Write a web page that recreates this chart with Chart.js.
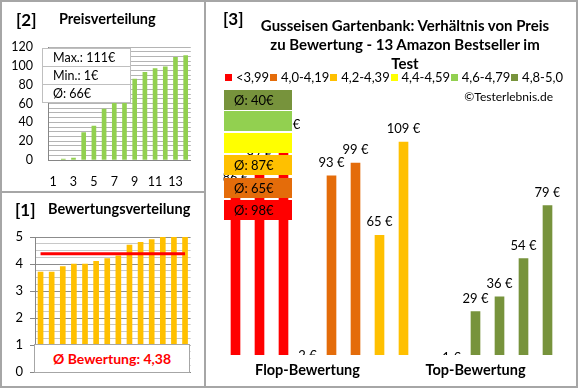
<!DOCTYPE html>
<html><head><meta charset="utf-8">
<script src="https://cdn.jsdelivr.net/npm/chart.js@4"></script>
<style>
body{margin:0;background:#fff;font-family:Lato,sans-serif;}
#root{position:relative;width:580px;height:390px;overflow:hidden;background:#fff;}
.abs{position:absolute;}
canvas{position:absolute;}
.hdr{position:absolute;font-weight:bold;color:#000;white-space:nowrap;}
.row{position:absolute;left:42px;border:1px solid #BFBFBF;background:#fff;font-size:12.5px;line-height:17px;padding-left:10px;box-sizing:border-box;width:89px;}
.ovl{position:absolute;left:224px;width:68px;height:20px;font-size:13px;line-height:20px;color:#000;box-sizing:border-box;padding-left:10px;}
#legend{position:absolute;left:225px;top:70px;width:338px;height:14px;display:flex;justify-content:space-between;align-items:center;font-size:13px;}
#legend span.i{display:flex;align-items:center;white-space:nowrap;}
#legend span.sq{display:inline-block;width:7px;height:7px;margin-right:4px;}
</style></head>
<body>
<div id="root">
<canvas id="c2" width="200" height="192" style="left:0;top:0"></canvas>
<canvas id="c1" width="200" height="196" style="left:0;top:192px"></canvas>
<canvas id="c3" width="375" height="390" style="left:205px;top:0"></canvas>

<div class="hdr" style="left:16px;top:9px;font-size:17px;">[2]</div>
<div class="hdr" style="left:59px;top:10px;font-size:14.5px;">Preisverteilung</div>
<div class="hdr" style="left:15px;top:199px;font-size:17px;">[1]</div>
<div class="hdr" style="left:48px;top:200px;font-size:14.5px;">Bewertungsverteilung</div>
<div class="hdr" style="left:223px;top:8px;font-size:17px;">[3]</div>
<div class="hdr" style="left:230px;top:16px;width:350px;text-align:center;font-size:15px;line-height:19px;white-space:normal;" id="title"></div>

<div id="statsBox"></div>
<div id="ratingBox" class="abs" style="left:34px;top:344px;width:156px;height:29px;border:1px solid #A6A6A6;background:#fff;box-sizing:border-box;text-align:center;color:#FF0000;font-weight:bold;font-size:14px;line-height:27px;"></div>

<div id="legend"></div>
<div class="abs" style="left:440px;top:89px;width:113px;text-align:right;font-size:12px;">©Testerlebnis.de</div>
<div id="ovls"></div>

<div class="abs" style="left:0;top:0;width:578px;height:388px;border:2px solid #A6A6A6;box-sizing:border-box;"></div>
<div class="abs" style="left:204px;top:0;width:2px;height:388px;background:#A6A6A6;"></div>
<div class="abs" style="left:0;top:191px;width:205px;height:2px;background:#A6A6A6;"></div>
</div>

<script>
// ---------- data ----------
const priceCats = ['1','2','3','4','5','6','7','8','9','10','11','12','13','14'];
const priceDist = [null, 1, 2, 29, 36, 54, 65, 79, 86, 93, 97, 99, 109, 111];
const priceStats = ['Max.: 111€', 'Min.: 1€', 'Ø: 66€'];

const ratingCats = ['1','2','3','4','5','6','7','8','9','10','11','12','13','14'];
const ratings = [3.7, 3.7, 3.9, 4.0, 4.0, 4.1, 4.2, 4.3, 4.7, 4.8, 4.9, 5.0, 5.0, 5.0];
const avgRating = 4.38;
const avgRatingText = 'Ø Bewertung: 4,38';

const titleLines = ['Gusseisen Gartenbank: Verhältnis von Preis', 'zu Bewertung - 13 Amazon Bestseller im', 'Test'];
const groupLabels = ['', '', '', 'Flop-Bewertung', '', '', '', '', '', '', 'Top-Bewertung', '', '', ''];
const prices = [86, 97, 111, 2, 93, 99, 65, 109, null, 1, 29, 36, 54, 79];
const priceClass = [0, 0, 0, 1, 1, 1, 2, 2, null, 5, 5, 5, 5, 5];
const classLabels = ['<3,99', '4,0-4,19', '4,2-4,39', '4,4-4,59', '4,6-4,79', '4,8-5,0'];
const classColors = ['#FF0000', '#E46C0A', '#FFC000', '#FFFF00', '#92D050', '#77933C'];
const classAvgLabels = ['Ø: 98€', 'Ø: 65€', 'Ø: 87€', '', '', 'Ø: 40€'];

// ---------- text elements ----------
document.getElementById('title').innerHTML = titleLines.join('<br>');
document.getElementById('ratingBox').textContent = avgRatingText;
const sb = document.getElementById('statsBox');
const rowTops = [48, 66, 84], rowHs = [19, 19, 19];
priceStats.forEach((t, i) => {
  const d = document.createElement('div'); d.className = 'row';
  d.style.top = rowTops[i] + 'px'; d.style.height = rowHs[i] + 'px'; d.textContent = t; sb.appendChild(d);
});
const lg = document.getElementById('legend');
classLabels.forEach((t, i) => {
  const s = document.createElement('span'); s.className = 'i';
  s.innerHTML = '<span class="sq" style="background:' + classColors[i] + '"></span>' + t;
  lg.appendChild(s);
});
const ovlTops = {5: 90, 4: 111, 3: 133, 2: 155, 1: 178, 0: 200};
const ov = document.getElementById('ovls');
[5, 4, 3, 2, 1, 0].forEach(c => {
  const d = document.createElement('div'); d.className = 'ovl';
  d.style.top = ovlTops[c] + 'px'; d.style.background = classColors[c]; d.textContent = classAvgLabels[c];
  ov.appendChild(d);
});

// ---------- charts ----------
Chart.defaults.font.family = 'Lato';
Chart.defaults.color = '#000';
Chart.defaults.animation = false;

new Chart(document.getElementById('c2'), {
  type: 'bar',
  data: { labels: priceCats, datasets: [{ data: priceDist, backgroundColor: '#92D050', barThickness: 4 }] },
  options: {
    responsive: false, devicePixelRatio: 1,
    layout: { padding: { top: 47, right: 9, left: 0, bottom: 0 } },
    plugins: { legend: { display: false }, tooltip: { enabled: false } },
    scales: {
      x: {
        grid: { display: false, drawTicks: false },
        border: { color: '#868686' },
        ticks: { autoSkip: false, maxRotation: 0, padding: 14, font: { size: 12.5 },
          callback: (v, i) => i % 2 === 0 ? priceCats[i] : '' },
        afterFit: s => { s.height = 32; }
      },
      y: {
        min: 0, max: 120,
        grid: { color: '#B4B4B4', drawTicks: false },
        border: { color: '#868686' },
        ticks: { stepSize: 5, autoSkip: false, padding: 15, font: { size: 12.5 },
          callback: v => v % 20 === 0 ? v : '' },
        afterFit: s => { s.width = 48; }
      }
    }
  }
});

const avgLinePlugin = {
  id: 'avgLine',
  afterDatasetsDraw(chart) {
    const { ctx, scales: { x, y } } = chart;
    const yy = y.getPixelForValue(avgRating);
    ctx.save();
    ctx.strokeStyle = '#FF0000'; ctx.lineWidth = 3;
    ctx.beginPath();
    ctx.moveTo(x.getPixelForValue(0), yy);
    ctx.lineTo(x.getPixelForValue(ratings.length - 1), yy);
    ctx.stroke();
    ctx.restore();
  }
};

new Chart(document.getElementById('c1'), {
  type: 'bar',
  data: { labels: ratingCats, datasets: [{ data: ratings, backgroundColor: '#FFC000', barThickness: 5 }] },
  plugins: [avgLinePlugin],
  options: {
    responsive: false, devicePixelRatio: 1,
    layout: { padding: { top: 45, right: 9.4, left: 0, bottom: 0 } },
    plugins: { legend: { display: false }, tooltip: { enabled: false } },
    scales: {
      x: {
        grid: { display: false, drawTicks: false },
        border: { color: '#868686' },
        ticks: { display: false },
        afterFit: s => { s.height = 16; }
      },
      y: {
        min: 0, max: 5,
        grid: {
          color: c => Number.isInteger(c.tick.value) ? '#8C8C8C' : '#C8C8C8',
          tickColor: c => Number.isInteger(c.tick.value) ? '#868686' : 'rgba(0,0,0,0)',
          drawTicks: true, tickLength: 5
        },
        border: { color: '#868686' },
        ticks: { stepSize: 0.25, autoSkip: false, padding: 7, font: { size: 13 },
          callback: v => Number.isInteger(v) ? v : '' },
        afterFit: s => { s.width = 35; }
      }
    }
  }
});

const barLabelPlugin = {
  id: 'barLabels',
  afterDatasetsDraw(chart) {
    const { ctx, chartArea } = chart;
    const meta = chart.getDatasetMeta(0);
    ctx.save();
    ctx.beginPath();
    ctx.rect(chartArea.left, chartArea.top, chartArea.right - chartArea.left, chartArea.bottom - chartArea.top);
    ctx.clip();
    ctx.font = '13px Lato'; ctx.fillStyle = '#000'; ctx.textAlign = 'center'; ctx.textBaseline = 'middle';
    meta.data.forEach((bar, i) => {
      if (prices[i] == null) return;
      ctx.fillText(prices[i] + ' €', bar.x, bar.y - 13);
    });
    ctx.restore();
  }
};

new Chart(document.getElementById('c3'), {
  type: 'bar',
  data: { labels: groupLabels, datasets: [{
    data: prices,
    backgroundColor: priceClass.map(c => c == null ? 'rgba(0,0,0,0)' : classColors[c]),
    barThickness: 9
  }] },
  plugins: [barLabelPlugin],
  options: {
    responsive: false, devicePixelRatio: 1,
    layout: { padding: { top: 85, right: 20.5, left: 18.5, bottom: 0 } },
    plugins: { legend: { display: false }, tooltip: { enabled: false } },
    scales: {
      x: {
        grid: { display: false, drawTicks: false },
        border: { display: false },
        ticks: { autoSkip: false, maxRotation: 0, padding: 7, font: { size: 14.5, weight: 'bold' } },
        afterFit: s => { s.height = 35; }
      },
      y: { display: false, min: 8.5, max: 135.9 }
    }
  }
});
</script>
</body></html>
